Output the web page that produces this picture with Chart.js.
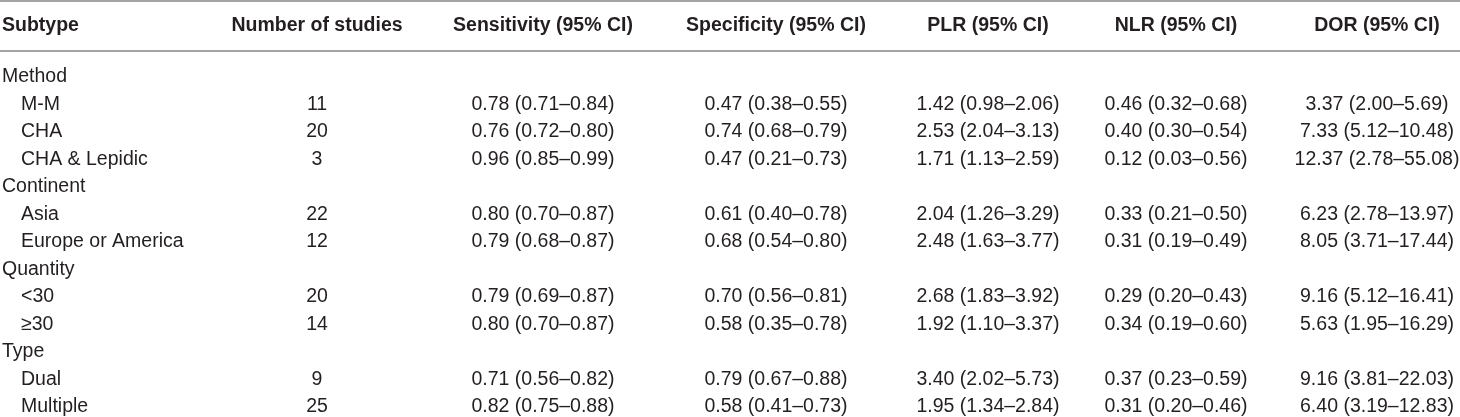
<!DOCTYPE html>
<html>
<head>
<meta charset="utf-8">
<script src="https://cdn.jsdelivr.net/npm/chart.js@4.4.1/dist/chart.umd.min.js"></script>
<style>
  html, body { margin: 0; padding: 0; background: #fff; }
  canvas { display: block; }
</style>
</head>
<body>
<canvas id="tbl" width="1460" height="417"></canvas>
<script>
// table content
const headers = ["Subtype", "Number of studies", "Sensitivity (95% CI)", "Specificity (95% CI)",
                 "PLR (95% CI)", "NLR (95% CI)", "DOR (95% CI)"]
const subtypes = ["Method", "M-M", "CHA", "CHA & Lepidic",
                  "Continent", "Asia", "Europe or America",
                  "Quantity", "<30", "≥30",
                  "Type", "Dual", "Multiple"]
const groupRows = ["Method", "Continent", "Quantity", "Type"]
const studies = [null, 11, 20, 3, null, 22, 12, null, 20, 14, null, 9, 25]
// [estimate, lower, upper]
const sensitivity = [null, [0.78, 0.71, 0.84], [0.76, 0.72, 0.80], [0.96, 0.85, 0.99],
                     null, [0.80, 0.70, 0.87], [0.79, 0.68, 0.87],
                     null, [0.79, 0.69, 0.87], [0.80, 0.70, 0.87],
                     null, [0.71, 0.56, 0.82], [0.82, 0.75, 0.88]]
const specificity = [null, [0.47, 0.38, 0.55], [0.74, 0.68, 0.79], [0.47, 0.21, 0.73],
                     null, [0.61, 0.40, 0.78], [0.68, 0.54, 0.80],
                     null, [0.70, 0.56, 0.81], [0.58, 0.35, 0.78],
                     null, [0.79, 0.67, 0.88], [0.58, 0.41, 0.73]]
const plr = [null, [1.42, 0.98, 2.06], [2.53, 2.04, 3.13], [1.71, 1.13, 2.59],
             null, [2.04, 1.26, 3.29], [2.48, 1.63, 3.77],
             null, [2.68, 1.83, 3.92], [1.92, 1.10, 3.37],
             null, [3.40, 2.02, 5.73], [1.95, 1.34, 2.84]]
const nlr = [null, [0.46, 0.32, 0.68], [0.40, 0.30, 0.54], [0.12, 0.03, 0.56],
             null, [0.33, 0.21, 0.50], [0.31, 0.19, 0.49],
             null, [0.29, 0.20, 0.43], [0.34, 0.19, 0.60],
             null, [0.37, 0.23, 0.59], [0.31, 0.20, 0.46]]
const dor = [null, [3.37, 2.00, 5.69], [7.33, 5.12, 10.48], [12.37, 2.78, 55.08],
             null, [6.23, 2.78, 13.97], [8.05, 3.71, 17.44],
             null, [9.16, 5.12, 16.41], [5.63, 1.95, 16.29],
             null, [9.16, 3.81, 22.03], [6.40, 3.19, 12.83]]

// layout
const FONT = "'Liberation Sans', Arial, Helvetica, sans-serif"
const FONT_SIZE = 19.5
const TEXT = "#231f20"
const RULE = "#a4a4a4"
const colAnchor = [2, 317, 543, 776, 988, 1176, 1377]   // x-scale units; col 0 left aligned, rest centred
const INDENT = 19
const HEADER_ROW = -1.86, TOP_RULE = -2.76, HEAD_RULE = -0.95

const fmtCI = v => v ? `${v[0].toFixed(2)} (${v[1].toFixed(2)}–${v[2].toFixed(2)})` : ""
const columns = [
  null,
  studies.map(n => n == null ? "" : String(n)),
  sensitivity.map(fmtCI),
  specificity.map(fmtCI),
  plr.map(fmtCI),
  nlr.map(fmtCI),
  dor.map(fmtCI),
]

const tablePlugin = {
  id: "tableText",
  afterDraw(chart) {
    const { ctx, scales: { x, y } } = chart
    ctx.save()

    // horizontal rules
    ctx.strokeStyle = RULE
    ctx.lineWidth = 2
    for (const r of [TOP_RULE, HEAD_RULE]) {
      const py = Math.round(y.getPixelForValue(r))
      ctx.beginPath()
      ctx.moveTo(x.getPixelForValue(0), py)
      ctx.lineTo(x.getPixelForValue(1460), py)
      ctx.stroke()
    }

    ctx.fillStyle = TEXT
    ctx.textBaseline = "middle"

    // header row
    ctx.font = `bold ${FONT_SIZE}px ${FONT}`
    headers.forEach((h, c) => {
      ctx.textAlign = c === 0 ? "left" : "center"
      ctx.fillText(h, x.getPixelForValue(colAnchor[c]), y.getPixelForValue(HEADER_ROW))
    })

    // body
    ctx.font = `${FONT_SIZE}px ${FONT}`
    subtypes.forEach((s, r) => {
      const py = y.getPixelForValue(r)
      const isGroup = groupRows.includes(s)
      ctx.textAlign = "left"
      ctx.fillText(s, x.getPixelForValue(colAnchor[0] + (isGroup ? 0 : INDENT)), py)
      ctx.textAlign = "center"
      for (let c = 1; c < columns.length; c++) {
        const txt = columns[c][r]
        if (txt) ctx.fillText(txt, x.getPixelForValue(colAnchor[c]), py)
      }
    })
    ctx.restore()
  },
}

new Chart(document.getElementById("tbl"), {
  type: "scatter",
  data: { datasets: [] },
  options: {
    responsive: false,
    animation: false,
    layout: { padding: 0 },
    plugins: { legend: { display: false }, tooltip: { enabled: false } },
    scales: {
      x: { type: "linear", min: 0, max: 1460, display: false },
      y: { type: "linear", min: -2.8, max: 12.36, reverse: true, display: false },
    },
  },
  plugins: [tablePlugin],
})
</script>
</body>
</html>
